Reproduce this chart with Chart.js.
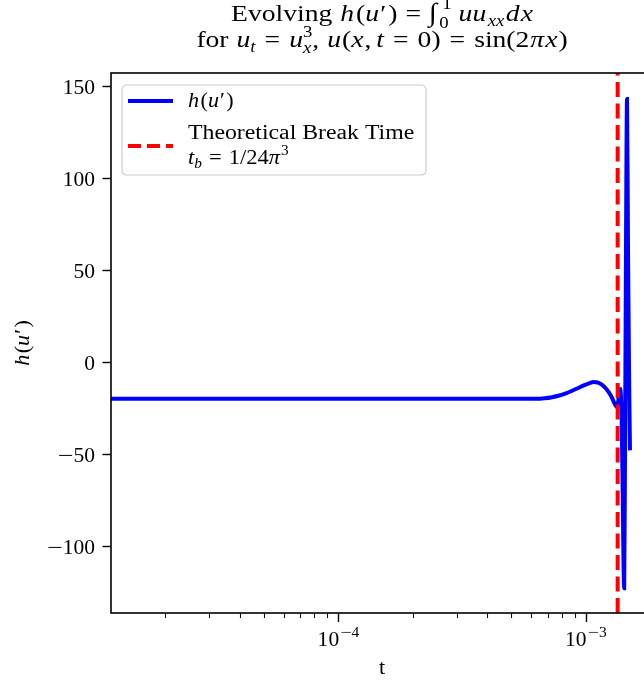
<!DOCTYPE html>
<html>
<head>
<meta charset="utf-8">
<script src="https://cdn.jsdelivr.net/npm/chart.js@4.4.0/dist/chart.umd.min.js"></script>
<style>
html,body{margin:0;padding:0;background:#fff;overflow:hidden;width:644px;height:681px;}
canvas{display:block;}
</style>
</head>
<body>
<canvas id="c" width="664" height="681" style="width:664px;height:681px"></canvas>
<script>
// ---- data ----
const tValues = [1.2e-5, 5e-5, 1e-4, 3e-4, 6.3e-4, 6.8e-4, 7.3e-4, 7.8e-4, 8.3e-4, 8.8e-4, 9.3e-4, 9.8e-4, 1.03e-3, 1.075e-3, 1.12e-3, 1.16e-3, 1.2e-3, 1.24e-3, 1.27e-3, 1.30e-3, 1.32e-3, 1.335e-3, 1.35e-3, 1.362e-3, 1.374e-3, 1.386e-3, 1.397e-3, 1.407e-3, 1.417e-3, 1.428e-3, 1.44e-3, 1.452e-3, 1.466e-3, 1.48e-3, 1.494e-3, 1.507e-3];
const hValues = [-20, -20, -20, -20, -20, -19.7, -19.1, -18.2, -17.0, -15.6, -14.1, -12.7, -11.6, -10.9, -11.2, -12.3, -14.1, -16.6, -19.0, -22.0, -23.8, -24.5, -21.5, -16.5, -14.5, -19, -36, -68, -103, -123, -40, 60, 143, 60, -5, -48];
const breakTime = 1 / (24 * Math.pow(Math.PI, 3));
const xLimits = [1.205e-5, 1.867e-3];
const yLimits = [-136.4, 157.1];
const yTicks = [-100, -50, 0, 50, 100, 150];
const xMajorExps = [-4, -3];
const seriesLabel = 'h(u′)';
const breakLabelLines = ['Theoretical Break Time', 't_b = 1/24π³'];

const FONT = '"Liberation Serif", "Times New Roman", "DejaVu Serif", serif';
const FS = 20.5;   // ticks, labels, legend
const TS = 24;     // title

function layoutRich(ctx, segs, size, sx){
  let cur=0, prevStart=0, prevEnd=0; const out=[];
  for(const s of segs){
    const fs = size*(s.s||1);
    const font = (s.i?'italic ':'') + fs + 'px ' + FONT;
    ctx.font = font;
    const ssx = sx*(s.wx||1);
    const w = ctx.measureText(s.t).width*ssx;
    let start, end;
    if(s.back){ start=prevStart + (s.pad||0); end=Math.max(prevEnd,start+w); }
    else { start=cur + (s.pad||0); end=start+w; }
    out.push({t:s.t, font, x:start, dy:(s.dy||0), sx:ssx});
    prevStart=start; prevEnd=end; cur=end + (s.after||0);
  }
  return {parts:out, width:cur};
}
function drawRich(ctx, segs, x, y, align, size, sx){
  sx = sx||1.08;
  const L = layoutRich(ctx, segs, size||FS, sx);
  let x0 = x;
  if(align==='center') x0 = x - L.width/2;
  else if(align==='right') x0 = x - L.width;
  ctx.textAlign='left'; ctx.textBaseline='alphabetic';
  for(const p of L.parts){
    ctx.font=p.font;
    ctx.save(); ctx.translate(x0+p.x, y+p.dy); ctx.scale(p.sx,1); ctx.fillText(p.t, 0, 0); ctx.restore();
  }
  return L.width;
}

const points = tValues.map((t,i)=>({x:t, y:hValues[i]}));
const breakPts = [{x:breakTime, y:yLimits[0]}, {x:breakTime, y:yLimits[1]}];
function hSegs(k){ return [{t:'h',i:1, after:1.5*k},{t:'('},{t:'u',i:1, after:1*k},{t:'′'},{t:')', pad:1.5*k}]; }
function numSegs(v){ return v<0 ? [{t:'−', wx:1.3},{t:String(Math.abs(v))}] : [{t:String(v)}]; }

const decor = {
  id:'decor',
  afterDraw(chart){
    const ctx = chart.ctx, xs = chart.scales.x, ys = chart.scales.y, a = chart.chartArea;
    ctx.save();
    ctx.fillStyle='#000'; ctx.strokeStyle='#000';
    ctx.lineWidth=1.6;
    ctx.strokeRect(a.left, a.top, a.right-a.left, a.bottom-a.top);
    ctx.lineWidth=1.4;
    for(const v of yTicks){
      const py = Math.round(ys.getPixelForValue(v))+0.5;
      ctx.beginPath(); ctx.moveTo(a.left, py); ctx.lineTo(a.left-8.5, py); ctx.stroke();
      drawRich(ctx, numSegs(v), a.left-16, py+7, 'right', FS, 1.05);
    }
    for(let e=-6;e<=0;e++){
      for(let m=1;m<=9;m++){
        const v = m*Math.pow(10,e);
        if(v<xLimits[0]||v>xLimits[1]) continue;
        const px = Math.round(xs.getPixelForValue(v))+0.5;
        const len = (m===1)?9:5;
        ctx.lineWidth = (m===1)?1.4:1.1;
        ctx.beginPath(); ctx.moveTo(px, a.bottom); ctx.lineTo(px, a.bottom+len); ctx.stroke();
      }
    }
    for(const e of xMajorExps){
      const px = xs.getPixelForValue(Math.pow(10,e));
      drawRich(ctx, [{t:'10'},{t:'−', s:0.72, dy:-9, pad:1, wx:1.3},{t:String(Math.abs(e)), s:0.72, dy:-9}], px, a.bottom+33, 'center', FS, 1.05);
    }
    drawRich(ctx, [{t:'t'}], (a.left+a.right)/2, 674, 'center', FS);
    ctx.save();
    ctx.translate(29, (a.top+a.bottom)/2);
    ctx.rotate(-Math.PI/2);
    drawRich(ctx, hSegs(1), 0, 0, 'center');
    ctx.restore();
    const cx = (a.left+a.right)/2;
    drawRich(ctx, [
      {t:'Evolving', after:8}].concat(hSegs(1.3)).concat([{t:'=', pad:8},
      {t:'∫', s:1.08, pad:8},{t:'0', s:0.68, dy:7, pad:2},{t:'1', s:0.68, dy:-12, back:1, pad:3},
      {t:'uu',i:1, pad:7, after:1.5},{t:'xx',i:1,s:0.68,dy:5},{t:'d',i:1, pad:1.5, after:1},{t:'x',i:1}
    ]), cx, 21, 'center', TS, 1.15);
    drawRich(ctx, [
      {t:'for', after:8},{t:'u',i:1},{t:'t',i:1,s:0.68,dy:5},{t:'=', pad:9},{t:'u',i:1, pad:9},
      {t:'x',i:1,s:0.68,dy:6},{t:'3',s:0.68,dy:-10,back:1},{t:','},
      {t:'u',i:1, pad:8},{t:'(', pad:1},{t:'x',i:1},{t:',', pad:1},{t:'t',i:1, pad:5},{t:'=', pad:9},{t:'0)', pad:9},{t:'=', pad:9},{t:'sin(2', pad:9},{t:'π',i:1, pad:1},{t:'x',i:1, pad:1},{t:')', pad:1}
    ], cx, 47, 'center', TS, 1.15);
    // legend
    const lx=122, ly=85, lw=304, lh=90, r=5;
    ctx.beginPath();
    ctx.moveTo(lx+r,ly); ctx.lineTo(lx+lw-r,ly); ctx.quadraticCurveTo(lx+lw,ly,lx+lw,ly+r);
    ctx.lineTo(lx+lw,ly+lh-r); ctx.quadraticCurveTo(lx+lw,ly+lh,lx+lw-r,ly+lh);
    ctx.lineTo(lx+r,ly+lh); ctx.quadraticCurveTo(lx,ly+lh,lx,ly+lh-r);
    ctx.lineTo(lx,ly+r); ctx.quadraticCurveTo(lx,ly,lx+r,ly); ctx.closePath();
    ctx.fillStyle='rgba(255,255,255,0.8)'; ctx.fill();
    ctx.strokeStyle='#cccccc'; ctx.lineWidth=1.2; ctx.stroke();
    ctx.lineWidth=4; ctx.strokeStyle='#0000ff';
    ctx.beginPath(); ctx.moveTo(128,101); ctx.lineTo(173,101); ctx.stroke();
    ctx.strokeStyle='#ff0000'; ctx.setLineDash([13,6]);
    ctx.beginPath(); ctx.moveTo(128,146); ctx.lineTo(173,146); ctx.stroke();
    ctx.setLineDash([]);
    ctx.fillStyle='#000';
    drawRich(ctx, hSegs(1), 188, 107, 'left');
    drawRich(ctx, [{t:breakLabelLines[0]}], 188, 139, 'left', FS, 1.16);
    drawRich(ctx, [{t:'t',i:1},{t:'b',i:1,s:0.68,dy:4},{t:'=', pad:7},{t:'1/24', pad:7},{t:'π',i:1},{t:'3',s:0.68,dy:-9, pad:1}], 188, 164, 'left', FS, 1.1);
    ctx.restore();
  }
};

new Chart(document.getElementById('c'), {
  type:'line',
  data:{datasets:[
    {label:breakLabelLines.join(' '), data:breakPts, borderColor:'#ff0000', borderWidth:4, borderDash:[15,6.5], pointRadius:0, order:0, fill:false},
    {label:seriesLabel, data:points, borderColor:'#0000ff', borderWidth:4, pointRadius:0, cubicInterpolationMode:'monotone', order:1, fill:false}
  ]},
  options:{
    responsive:false, animation:false, devicePixelRatio:1,
    layout:{padding:{left:111, top:73, right:11, bottom:68}},
    plugins:{legend:{display:false}, tooltip:{enabled:false}, title:{display:false}},
    scales:{
      x:{type:'logarithmic', min:xLimits[0], max:xLimits[1], display:false},
      y:{type:'linear', min:yLimits[0], max:yLimits[1], display:false}
    }
  },
  plugins:[decor]
});
</script>
</body>
</html>
